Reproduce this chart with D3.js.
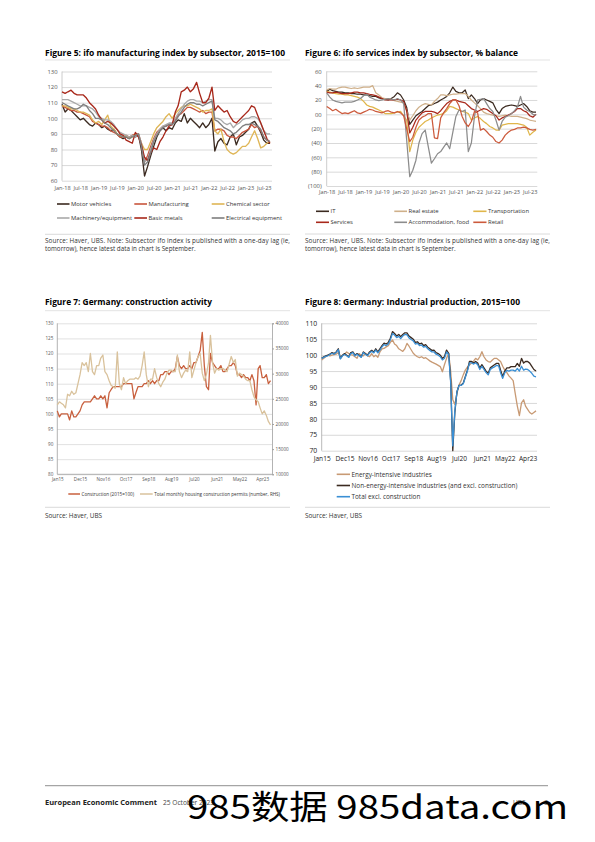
<!DOCTYPE html>
<html><head><meta charset="utf-8">
<script src="https://cdn.jsdelivr.net/npm/d3@7"></script>
<style>body{margin:0;background:#fff}svg{display:block}text{font-family:"Open Sans","Noto Sans",sans-serif}</style>
</head><body><svg id="c" width="595" height="842"></svg>
<script>
// ---------- Figure 5 data (Jan-18 .. Sep-23, monthly) ----------
const f5XLabels=["Jan-18","Jul-18","Jan-19","Jul-19","Jan-20","Jul-20","Jan-21","Jul-21","Jan-22","Jul-22","Jan-23","Jul-23"];
const f5YTicks=[60,70,80,90,100,110,120,130];
const f5Names=["Motor vehicles","Manufacturing","Chemical sector","Machinery/equipment","Basic metals","Electrical equipment"];
const f5Colors=["#3b2a20","#c9553d","#dfb656","#a9a9a9","#a8281b","#7f7f7f"];
const f5Motor=[109,104,106,105,103,101,99,100,98,96,95,97,96,94,95,93,92,93,90,88,87,88,87,89,88,89,80,63,69,76,82,88,92,94,92,94,93,97,99,98,103,97,100,98,96,94,97,94,96,100,79,85,87,84,83,88,90,83,88,89,91,93,97,98,95,91,86,84,84];
const f5Manuf=[108,107,106,105,105,104,104,103,102,101,98,97,96,95,95,94,92,91,90,88,88,89,88,89,90,90,84,72,76,82,87,91,93,95,95,96,96,99,102,103,105,107,107,106,105,104,105,103,104,104,92,93,93,92,89,88,88,87,89,91,92,93,96,94,95,92,88,86,85];
const f5Chem=[108,108,107,106,106,105,104,104,103,102,99,97,98,96,99,102,95,93,90,89,88,89,87,88,90,89,84,80,80,85,90,94,96,98,101,103,100,103,105,107,108,108,109,108,107,106,104,105,105,106,92,90,93,85,80,78,77,78,80,82,82,84,88,92,87,81,82,84,85];
const f5Mach=[112,112,112,111,110,109,108,108,108,107,106,104,101,100,99,99,98,96,93,91,90,89,88,89,88,90,84,72,74,80,86,90,93,95,96,97,97,100,103,106,109,111,112,112,111,111,110,111,112,112,100,100,99,97,96,97,94,96,97,99,100,100,101,101,100,97,92,90,90];
const f5Metals=[117,116,117,118,116,115,115,115,113,110,108,106,102,99,97,98,97,95,93,90,89,86,85,84,91,88,83,75,73,78,81,80,85,88,92,95,96,104,108,117,118,120,117,119,123,116,110,110,113,120,105,108,106,104,105,101,98,97,99,101,103,105,108,107,102,97,92,87,84];
const f5Elec=[110,109,108,107,106,106,107,109,108,105,103,100,100,99,97,96,94,92,90,89,88,88,87,88,89,90,82,70,72,78,85,89,92,94,95,96,96,98,101,104,107,109,110,110,109,109,108,109,110,111,99,98,96,94,93,92,90,91,93,95,96,96,97,96,95,93,88,86,85];

// ---------- Figure 6 data (Jan-18 .. Sep-23, % balance) ----------
const f6XLabels=f5XLabels;
const f6YTicks=[-100,-80,-60,-40,-20,0,20,40,60];
const f6YLabels=["(100)","(80)","(60)","(40)","(20)","00","20","40","60"];
const f6Names=["IT","Real estate","Transportation","Services","Accommodation, food","Retail"];
const f6Colors=["#3b2a20","#cfb08a","#e0b64a","#a8281b","#8c8c8c","#cc5a3c"];
const f6IT=[32,35,33,32,31,31,30,30,29,29,28,28,27,27,26,25,25,23,22,21,20,22,25,30,27,20,10,-14,-8,-2,1,4,8,12,13,15,17,20,22,25,30,38,32,30,30,34,22,27,22,15,20,22,20,18,16,7,1,8,11,12,13,12,11,13,15,11,5,3,3];
const f6RealEstate=[34,36,35,35,37,38,38,37,36,37,36,37,38,38,38,40,30,27,23,22,22,21,19,18,17,16,5,-8,-2,5,10,13,15,14,13,18,22,27,27,26,27,28,28,29,29,29,25,20,16,12,8,3,1,0,-1,-2,-3,-2,-1,-2,-3,-3,-3,-4,-5,-6,-8,-9,-10];
const f6Transport=[32,31,30,29,28,28,27,27,26,25,24,22,18,13,11,10,8,6,4,1,1,1,2,3,4,-2,-8,-52,-36,-25,-18,-14,-10,-8,-5,-3,-1,0,1,5,11,10,8,6,4,3,1,-8,-5,-3,-6,-10,-13,-17,-19,-22,-22,-15,-14,-13,-13,-13,-13,-14,-15,-18,-29,-25,-22];
const f6Services=[31,30,30,31,30,29,29,29,30,31,31,30,30,29,28,27,26,24,22,20,20,20,20,21,20,18,5,-26,-18,-8,-3,2,4,4,4,3,1,5,10,15,18,20,20,18,17,16,12,8,6,4,6,8,7,4,1,-2,-8,-5,-3,-1,1,4,8,8,5,3,-2,-4,0];
const f6Accom=[30,24,20,18,17,16,17,17,17,18,20,22,26,28,24,22,20,19,20,21,22,21,20,22,20,15,-35,-87,-78,-64,-40,-27,-22,-45,-68,-62,-55,-52,-46,-40,-48,-25,-3,6,4,6,-52,-40,-3,20,21,22,15,8,4,-8,-22,-10,-4,-2,1,5,10,25,10,6,4,0,-1];
const f6Retail=[11,8,5,7,4,1,2,1,3,5,2,1,3,5,7,6,4,3,2,4,5,3,2,4,2,-2,-20,-38,-32,-18,-8,-4,-2,1,1,-33,-34,-5,2,8,15,20,20,12,-3,-12,-17,-10,4,2,-22,-20,-24,-29,-32,-38,-40,-36,-29,-25,-22,-21,-19,-19,-18,-19,-21,-22,-21];

// ---------- Figure 7 data (Jan15 .. Aug23) ----------
const f7XLabels=["Jan15","Dec15","Nov16","Oct17","Sep18","Aug19","Jul20","Jun21","May22","Apr23"];
const f7YTicks=[80,85,90,95,100,105,110,115,120,125,130];
const f7Y2Ticks=[10000,15000,20000,25000,30000,35000,40000];
const f7Names=["Construction (2015=100)","Total monthly housing construction permits (number, RHS)"];
const f7Colors=["#c8603e","#d9c29c"];
const f7Construction=[101,99,100,100,100,100,98,101,99,99,100,101,103,104,104,104,104,105,106,105,105,106,105,106,102,107,108,109,109,109,109,109,110,110,110,110,110,105,107,109,109,109,110,110,111,110,111,110,111,111,113,113,114,114,113,114,114,115,119,116,115,116,115,115,116,115,117,117,119,121,127,116,109,108,120,117,116,115,115,116,114,114,115,116,116,117,116,113,113,112,113,112,112,111,113,111,103,115,116,112,112,113,110,111];
const f7Permits=[23800,24400,24100,23800,23200,25900,25600,26500,25900,26200,28000,29800,32200,31600,32200,30400,34000,30400,29800,31600,31600,33100,33700,30400,29800,28600,27700,27400,27100,34300,28000,26800,29200,28000,28600,28900,28900,28900,29200,28900,29500,31600,34300,29800,27400,28900,28900,31000,29200,28000,27400,28300,28900,30100,30700,30700,30400,30400,33700,30400,29200,30100,30700,30400,34300,29200,30700,32200,33400,34000,30100,28600,29800,32200,37600,32200,30100,31000,30700,31000,31000,30700,30400,31900,33400,32200,32800,29500,30100,29800,29500,28900,28600,28600,26800,25400,24800,24400,23200,22000,22600,21700,20500,19800];

// ---------- Figure 8 data (Jan15 .. Aug23, 2015=100) ----------
const f8XLabels=f7XLabels;
const f8YTicks=[70,75,80,85,90,95,100,105,110];
const f8Names=["Energy-intensive industries","Non-energy-intensive industries (and excl. construction)","Total excl. construction"];
const f8Colors=["#c89a74","#3b2a20","#3a8fd4"];
const f8Energy=[98.5,99,99.5,100,99.8,100,100.2,100.3,100.8,99,99.8,100.3,101,100.5,100.2,100,99.5,99,100.5,100,99.8,100.5,99.8,99.5,100.5,99.5,100,99.3,101,102,102.1,102.6,103,104,104.8,103.5,103,102,101.6,101.2,102,103.7,102.8,101.7,100.6,100,99.5,99.2,99.5,99,99.2,98.7,98.2,97.8,97.5,97.2,96.8,96.4,94.8,97,99,100.6,95,86,84.5,88,90.6,92,93.8,95.3,96.2,96.9,97.5,98.2,99,98.5,99.5,101.1,99.5,98.5,98,97.8,98.5,99,99,98.5,98,96.5,95.3,94.5,93.5,92.8,92,88,84,81,85,86,84,83,82,81.5,82,82.5];
const f8NonEnergy=[99,99.5,99.8,100,100.3,100.8,100.5,101,102,99,100,100.5,100,99.5,100.8,101,100,100.5,100,99.5,101,100.5,100,101,101.5,101,102,101,102,103,103.8,103.5,104,105.3,107.4,106.8,106,106.5,105.8,106.5,107,107,106,105.5,105,104,104.2,103.5,103.8,103,103.3,102.5,102,101.5,101.6,100.8,100.5,100,99,99.5,101.6,100.6,92,70,82,88.5,90.5,90.6,91.2,93.2,95.3,98,98,97.5,98,97.5,95.9,97,96,95,94.3,96,96.5,97,97.4,97.4,95.3,93.2,95,96,96,96.4,96.4,96.4,97.4,96.5,99,97.5,98,98,97.5,96.5,95.5,95];
const f8Total=[99,99.3,99.6,99.8,100.2,100.6,100.3,100.8,101.7,98.8,99.8,100.2,99.8,99.3,100.5,100.8,99.8,100.3,99.8,99.3,100.8,100.3,99.8,100.7,101.2,100.7,101.6,100.7,101.6,102.6,103.3,103,103.5,104.8,106.8,106.3,105.5,105.9,105.2,106,106.5,106.4,105.4,104.9,104.5,103.5,103.7,103,103.2,102.5,102.8,102,101.5,101,101,100.3,100,99.5,98.5,99,101,100.2,91.5,71.5,82.5,88.5,90.5,90.5,91,93,95,97.6,97.6,97.2,97.6,97,95.5,96.5,95.5,94.5,93.8,95.5,96,96.3,96.8,96.6,94.5,92.7,94.5,95.2,95,95.3,95.3,95,95.8,95,96.5,95.3,95.6,95.5,95,94.3,93.4,93.2];

// ---------- texts ----------
const srcNote1="Source: Haver, UBS. Note: Subsector ifo index is published with a one-day lag (ie,";
const srcNote2="tomorrow), hence latest data in chart is September.";

const svg=d3.select("#c");
svg.append("rect").attr("width",595).attr("height",842).attr("fill","#fff");

function months(start,n){return d3.range(n).map(i=>d3.timeMonth.offset(start,i));}

function title(x,y,txt,len){
  svg.append("text").attr("x",x).attr("y",y).attr("font-size",8.8).attr("font-weight","bold")
    .attr("fill","#000").attr("textLength",len).attr("lengthAdjust","spacingAndGlyphs").text(txt);
}
function hrule(x1,x2,y,c,w){
  svg.append("line").attr("x1",x1).attr("x2",x2).attr("y1",y).attr("y2",y).attr("stroke",c).attr("stroke-width",w);
}

function panel(o){
  const g=svg.append("g");
  const x=d3.scaleTime().domain([o.dates[0],o.dates[o.dates.length-1]]).range([o.left,o.dataRight]);
  const y=d3.scaleLinear().domain(o.yDomain).range([o.bottom,o.top]);
  const grid=g.append("g").attr("transform",`translate(${o.left},0)`)
    .call(d3.axisLeft(y).tickValues(o.yTicks).tickSize(-(o.right-o.left)).tickFormat(""));
  grid.select(".domain").remove();
  grid.selectAll("line").attr("stroke",o.gridColor).attr("stroke-width",o.gridWidth);
  g.append("line").attr("x1",o.left).attr("x2",o.left).attr("y1",o.top).attr("y2",o.bottom)
    .attr("stroke",o.axisColor).attr("stroke-width",o.axisWidth);
  if(o.bottomLine){g.append("line").attr("x1",o.left).attr("x2",o.right).attr("y1",o.bottom).attr("y2",o.bottom)
    .attr("stroke",o.axisColor).attr("stroke-width",o.axisWidth);}
  const ya=g.append("g").attr("transform",`translate(${o.left},0)`)
    .call(d3.axisLeft(y).tickValues(o.yTicks).tickSize(0).tickPadding(o.yPad)
      .tickFormat((d,i)=>o.yLabels?o.yLabels[i]:d));
  ya.select(".domain").remove();
  ya.selectAll("text").attr("font-size",o.fs).attr("fill",o.labelColor).style("font-family",'"Open Sans",sans-serif');
  const xDates=o.xLabels.map(o.parse);
  const xa=g.append("g").attr("transform",`translate(0,${o.bottom})`)
    .call(d3.axisBottom(x).tickValues(xDates).tickSize(0).tickPadding(o.xPad).tickFormat((d,i)=>o.xLabels[i]));
  xa.select(".domain").remove();
  xa.selectAll("text").attr("font-size",o.xfs||o.fs).attr("fill",o.labelColor).style("font-family",'"Open Sans",sans-serif');
  return {g,x,y};
}

function drawSeries(p,dates,vals,color,w,yScale){
  const ys=yScale||p.y;
  p.g.append("path").datum(vals).attr("fill","none").attr("stroke",color).attr("stroke-width",w)
    .attr("stroke-linejoin","round")
    .attr("d",d3.line().x((d,i)=>p.x(dates[i])).y(d=>ys(d)));
}

function legendItem(x1,x2,y,color,txt,fs,w){
  svg.append("line").attr("x1",x1).attr("x2",x2).attr("y1",y).attr("y2",y).attr("stroke",color).attr("stroke-width",w);
  svg.append("text").attr("x",x2+1.5).attr("y",y).attr("dy","0.35em").attr("font-size",fs).attr("fill","#333").text(txt);
}

// ================= Figure 5 =================
title(45,55.7,"Figure 5: ifo manufacturing index by subsector, 2015=100",240);
hrule(45,290,60,"#e3e3e3",1);
const d5=months(new Date(2018,0,1),69);
const p5=panel({dates:d5,left:62,right:272,dataRight:270,top:71.5,bottom:180.7,yDomain:[60,130],yTicks:f5YTicks,
  gridColor:"#d9d9d9",gridWidth:1,axisColor:"#bfbfbf",axisWidth:0.8,yPad:4.5,xPad:5.2,fs:5.9,xfs:5.6,labelColor:"#555",
  xLabels:f5XLabels,parse:d3.timeParse("%b-%y")});
[f5Motor,f5Manuf,f5Chem,f5Mach,f5Metals,f5Elec].forEach((s,i)=>drawSeries(p5,d5,s,f5Colors[i],1.35));
const l5x=[[57,69.5],[134.3,147],[211.7,224.5]];
f5Names.forEach((n,i)=>{const c=i%3,r=Math.floor(i/3);legendItem(l5x[c][0],l5x[c][1],204+r*14,f5Colors[i],n,5.9,1.6);});
hrule(45,290,234.3,"#d0d0d0",0.8);
svg.append("text").attr("x",45).attr("y",242.5).attr("font-size",6.3).attr("fill","#333").attr("textLength",245).attr("lengthAdjust","spacing").text(srcNote1);
svg.append("text").attr("x",45).attr("y",251.3).attr("font-size",6.3).attr("fill","#333").text(srcNote2);

// ================= Figure 6 =================
title(305,55.7,"Figure 6: ifo services index by subsector, % balance",213);
hrule(305,550,60,"#e3e3e3",1);
const p6=panel({dates:d5,left:326.7,right:537.3,dataRight:536,top:71.3,bottom:186,yDomain:[-100,60],yTicks:f6YTicks,yLabels:f6YLabels,
  gridColor:"#d9d9d9",gridWidth:1,axisColor:"#bfbfbf",axisWidth:0.8,yPad:5,xPad:3.9,fs:5.9,xfs:5.6,labelColor:"#555",
  xLabels:f6XLabels,parse:d3.timeParse("%b-%y")});
[f6IT,f6RealEstate,f6Transport,f6Services,f6Accom,f6Retail].forEach((s,i)=>drawSeries(p6,d5,s,f6Colors[i],1.25));
const l6x=[[316,329],[394.3,407],[473.3,486.5]];
f6Names.forEach((n,i)=>{const c=i%3,r=Math.floor(i/3);legendItem(l6x[c][0],l6x[c][1],211.3+r*11,f6Colors[i],n,5.9,1.6);});
hrule(305,550,234,"#d0d0d0",0.8);
svg.append("text").attr("x",305).attr("y",242.5).attr("font-size",6.3).attr("fill","#333").attr("textLength",245).attr("lengthAdjust","spacing").text(srcNote1);
svg.append("text").attr("x",305).attr("y",251.3).attr("font-size",6.3).attr("fill","#333").text(srcNote2);

// ================= Figure 7 =================
title(45,305,"Figure 7: Germany: construction activity",167);
hrule(45,290,310.7,"#e3e3e3",1);
const d7=months(new Date(2015,0,1),104);
const p7=panel({dates:d7,left:57.3,right:272,dataRight:270.5,top:323.3,bottom:474.3,yDomain:[80,130],yTicks:f7YTicks,
  gridColor:"#d9d9d9",gridWidth:0.8,axisColor:"#a0a0a0",axisWidth:0.8,bottomLine:true,yPad:4,xPad:3.2,fs:4.6,labelColor:"#555",
  xLabels:f7XLabels,parse:d3.timeParse("%b%y")});
const y7r=d3.scaleLinear().domain([10000,40000]).range([474.3,323.3]);
const ra=p7.g.append("g").attr("transform","translate(272,0)")
  .call(d3.axisRight(y7r).tickValues(f7Y2Ticks).tickSize(2).tickPadding(1.5).tickFormat(d3.format("d")));
ra.select(".domain").attr("stroke","#a0a0a0").attr("stroke-width",0.8);
ra.selectAll("line").attr("stroke","#a0a0a0");
ra.selectAll("text").attr("font-size",4.6).attr("fill","#555").style("font-family",'"Open Sans",sans-serif');
drawSeries(p7,d7,f7Construction,f7Colors[0],1.3);
drawSeries(p7,d7,f7Permits,f7Colors[1],1.3,y7r);
legendItem(68.3,80,494,f7Colors[0],f7Names[0],4.6,1.5);
legendItem(140,152.7,494,f7Colors[1],f7Names[1],4.6,1.5);
hrule(45,290,507.3,"#d0d0d0",0.8);
svg.append("text").attr("x",45).attr("y",517.7).attr("font-size",6.4).attr("fill","#333").text("Source: Haver, UBS");

// ================= Figure 8 =================
title(305,305,"Figure 8: Germany: Industrial production, 2015=100",215);
hrule(305,550,310.7,"#e3e3e3",1);
const p8=panel({dates:d7,left:321.7,right:537,dataRight:536,top:323.3,bottom:450.7,yDomain:[70,110],yTicks:f8YTicks,
  gridColor:"#d9d9d9",gridWidth:1,axisColor:"#a6a6a6",axisWidth:0.8,yPad:4.5,xPad:5.6,fs:6.8,xfs:6.6,labelColor:"#222",
  xLabels:f8XLabels,parse:d3.timeParse("%b%y")});
[f8Energy,f8NonEnergy,f8Total].forEach((s,i)=>drawSeries(p8,d7,s,f8Colors[i],1.3));
f8Names.forEach((n,i)=>legendItem(336.7,350,474.3+i*11.2,f8Colors[i],n,6.4,1.6));
hrule(305,550,507.3,"#d0d0d0",0.8);
svg.append("text").attr("x",305).attr("y",517.7).attr("font-size",6.4).attr("fill","#333").text("Source: Haver, UBS");

// ================= Footer =================
hrule(45,548,785.7,"#444",0.6);
svg.append("text").attr("x",45).attr("y",805).attr("font-size",6.6).attr("font-weight","bold").attr("fill","#222")
  .attr("textLength",112).attr("lengthAdjust","spacingAndGlyphs").text("European Economic Comment");
svg.append("text").attr("x",163).attr("y",805).attr("font-size",6.6).attr("fill","#444").text("25 October 2023");
svg.append("text").attr("x",513).attr("y",805).attr("font-size",6.6).attr("fill","#444").text("UBS");
svg.append("text").attr("x",548).attr("y",805).attr("font-size",6.6).attr("fill","#444").attr("text-anchor","end").text("3");
svg.append("text").attr("x",187).attr("y",819.3).attr("font-size",33)
  .style("font-family",'"Noto Sans CJK SC","Noto Sans",sans-serif').attr("fill","#000")
  .attr("textLength",381).attr("lengthAdjust","spacingAndGlyphs").text("985数据 985data.com");
</script></body></html>
